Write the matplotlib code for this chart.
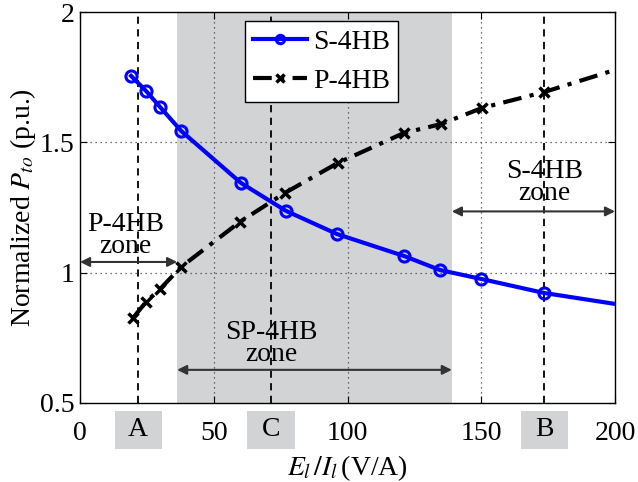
import matplotlib
matplotlib.use("Agg")
import matplotlib.pyplot as plt
from matplotlib.patches import Rectangle

plt.rcParams['font.family'] = ['Liberation Serif', 'DejaVu Serif']
plt.rcParams['mathtext.fontset'] = 'stix'

s_x = [19.1, 24.7, 29.9, 37.8, 60.2, 77.0, 96.1, 121.1, 134.6, 149.9, 173.5, 200]
s_y = [1.755, 1.697, 1.636, 1.544, 1.344, 1.237, 1.148, 1.064, 1.010, 0.976, 0.922, 0.880]
p_x = [19.8, 24.7, 29.9, 37.8, 59.8, 76.6, 96.4, 121.1, 134.9, 150.3, 173.5, 200]
p_y = [0.826, 0.888, 0.937, 1.022, 1.195, 1.306, 1.421, 1.536, 1.570, 1.632, 1.693, 1.778]

marks = {'A': 21.7, 'C': 71.4, 'B': 173.5}
shade = (36.3, 139.0)
xticks = [0, 50, 100, 150, 200]
yticks = [0.5, 1, 1.5, 2]

FS = 20
GREY = '#d2d3d5'
fig = plt.figure(figsize=(6.38, 4.82), dpi=100)
ax = fig.add_axes([0.1254, 0.164, 0.8386, 0.811])
ax.set_xlim(0, 200)
ax.set_ylim(0.5, 2)

ax.axvspan(shade[0], shade[1], color=GREY, zorder=0, lw=0)
for v in [50, 100, 150]:
    ax.axvline(v, color='#444444', ls=(0, (1, 3)), lw=0.9, zorder=1)
for h in [1.0, 1.5]:
    ax.axhline(h, color='#444444', ls=(0, (1, 3)), lw=0.9, zorder=1)
for k, v in marks.items():
    ax.axvline(v, color='black', ls=(0, (4, 3)), lw=1.3, zorder=1)

dashdot = (0, (4.5, 2, 1, 2))
ax.plot(s_x, s_y, color='#0000ff', lw=3, zorder=3)
ax.plot(s_x[:-1], s_y[:-1], ls='none', marker='o', ms=8, mfc='none', mec='#0000ff', mew=2.2, zorder=4)
ln_s, = ax.plot([], [], color='#0000ff', lw=3, marker='o', ms=6, mfc='none', mew=2.2, label='S-4HB')

ax.plot(p_x, p_y, color='black', lw=3, ls=dashdot, zorder=3)
ax.plot(p_x[:-1], p_y[:-1], ls='none', marker='x', ms=7, mec='black', mew=2.5, zorder=4)
ln_p, = ax.plot([], [], color='black', lw=3, ls=dashdot, marker='x', ms=6, mew=2.5, label='P-4HB')

arrow_kw = dict(arrowstyle='<|-|>', color='#333333', lw=1.5, mutation_scale=14, shrinkA=0, shrinkB=0)
ax.annotate('', xy=(0, 1.041), xytext=(shade[0], 1.041), arrowprops=arrow_kw)
ax.annotate('', xy=(shade[0], 0.627), xytext=(shade[1], 0.627), arrowprops=arrow_kw)
ax.annotate('', xy=(shade[1], 1.235), xytext=(200, 1.235), arrowprops=arrow_kw)

ax.text(17, 1.143, 'P-4HB\nzone', ha='center', va='center', fontsize=FS, linespacing=0.85)
ax.text(71.4, 0.727, 'SP-4HB\nzone', ha='center', va='center', fontsize=FS, linespacing=0.85)
ax.text(173.5, 1.346, 'S-4HB\nzone', ha='center', va='center', fontsize=FS, linespacing=0.85)

ax.set_xticks(xticks)
ax.set_xticklabels([str(t) for t in xticks])
ax.set_yticks(yticks)
ax.set_yticklabels(['0.5', '1', '1.5', '2'])
ax.tick_params(direction='in', length=5, labelsize=FS, pad=4, top=True, right=True)
ax.tick_params(axis='x', pad=13)
for sp in ax.spines.values():
    sp.set_linewidth(1.0)

# grey boxes with the A, C, B labels below the axis
half_w = 8.8
for k, v in marks.items():
    ax.add_patch(Rectangle((v - half_w, 0.324), 2 * half_w, 0.145, facecolor=GREY,
                           edgecolor='none', clip_on=False, zorder=5))
    ax.text(v, 0.3965, k, ha='center', va='center', fontsize=FS, zorder=6)

ax.set_xlabel(r'$E_l\,/I_l\,$(V/A)', fontsize=FS, labelpad=5)
ax.set_ylabel(r'Normalized $P_{to}$ (p.u.)', fontsize=FS, labelpad=1)

leg = ax.legend(handles=[ln_s, ln_p], loc='upper left', bbox_to_anchor=(0.308, 0.977),
                fontsize=FS, frameon=True, fancybox=False, edgecolor='black', framealpha=1,
                handlelength=1.95, borderpad=0.3, labelspacing=0.5, handletextpad=0.2,
                borderaxespad=0)
leg.get_frame().set_linewidth(1.0)
leg.set_zorder(6)

fig.savefig('out.png', dpi=100)
